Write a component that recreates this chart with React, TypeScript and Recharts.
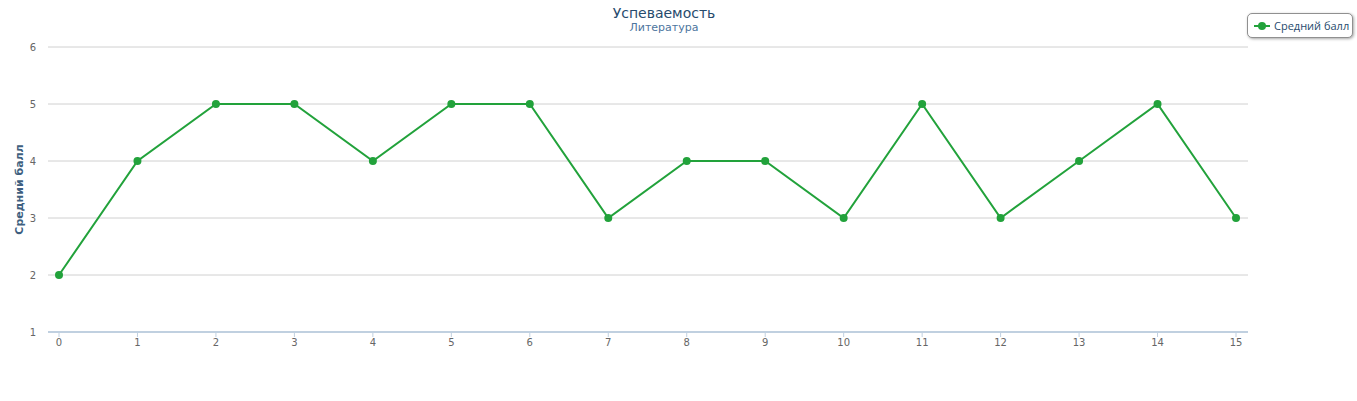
import React from 'react';
import { LineChart, Line, XAxis, YAxis, CartesianGrid } from 'recharts';

const categories = [0, 1, 2, 3, 4, 5, 6, 7, 8, 9, 10, 11, 12, 13, 14, 15];
const scores = [2, 4, 5, 5, 4, 5, 5, 3, 4, 4, 3, 5, 3, 4, 5, 3];
const yTicks = [1, 2, 3, 4, 5, 6];
const seriesName = 'Средний балл';
const title = 'Успеваемость';
const subtitle = 'Литература';

const data = categories.map((c, i) => ({ x: c, y: scores[i] }));
const GREEN = '#22a23b';
const FONT = '"DejaVu Sans", Verdana, sans-serif';
const LFONT = '"Open Sans", "Noto Sans", sans-serif';

const LegendBox = () => (
  <div
    style={{
      position: 'absolute',
      left: 1247,
      top: 13,
      width: 106,
      height: 25,
      boxSizing: 'border-box',
      border: '1px solid #909090',
      borderRadius: 5,
      background: '#fff',
      boxShadow: '1px 1px 3px rgba(0,0,0,0.35)',
      paddingLeft: 6,
      display: 'flex',
      alignItems: 'center',
      fontFamily: LFONT,
      fontSize: 11,
      color: '#274b6d',
      whiteSpace: 'nowrap',
    }}
  >
    <svg width={16} height={10} style={{ marginRight: 4 }}>
      <line x1={0} y1={5} x2={16} y2={5} stroke={GREEN} strokeWidth={2} />
      <circle cx={8} cy={5} r={4} fill={GREEN} />
    </svg>
    {seriesName}
  </div>
);

const YLabel = (props: any) => {
  const vb = props.viewBox || {};
  const cy = vb.y + vb.height / 2;
  return (
    <text
      x={23}
      y={cy}
      transform={`rotate(-90, 23, ${cy})`}
      textAnchor="middle"
      fill="#3e5f80"
      fontWeight="bold"
      fontSize={11}
      fontFamily={FONT}
    >
      {seriesName}
    </text>
  );
};

export default function App() {
  return (
    <div style={{ position: 'absolute', left: 0, top: 0, width: 1357, height: 401, background: '#fff' }}>
      <LineChart
        width={1357}
        height={401}
        data={data}
        margin={{ top: 47, right: 109, bottom: 0, left: 0 }}
      >
        <CartesianGrid horizontal vertical={false} stroke="#d0d0d0" />
        <XAxis
          dataKey="x"
          type="number"
          domain={[0, 15]}
          ticks={categories}
          interval={0}
          padding={{ left: 11, right: 12 }}
          height={69}
          stroke="#c0d0e0"
          strokeWidth={2}
          tickLine={{ stroke: '#c0d0e0', strokeWidth: 1 }}
          tickSize={5}
          tick={{ fill: '#666', fontSize: 10, fontFamily: FONT }}
        />
        <YAxis
          domain={[1, 6]}
          ticks={yTicks}
          interval={0}
          width={48}
          axisLine={false}
          tickLine={false}
          tickMargin={6}
          tick={{ fill: '#666', fontSize: 10, fontFamily: FONT }}
          label={<YLabel />}
        />
        <Line
          type="linear"
          dataKey="y"
          name={seriesName}
          stroke={GREEN}
          strokeWidth={2}
          dot={{ r: 4, fill: GREEN, stroke: GREEN, strokeWidth: 0 }}
          activeDot={false}
          isAnimationActive={false}
        />
      </LineChart>
      <div
        style={{
          position: 'absolute',
          left: 0,
          width: 1328,
          top: 5,
          textAlign: 'center',
          fontFamily: FONT,
          fontSize: 14,
          color: '#274b6d',
        }}
      >
        {title}
      </div>
      <div
        style={{
          position: 'absolute',
          left: 0,
          width: 1328,
          top: 21,
          textAlign: 'center',
          fontFamily: FONT,
          fontSize: 11,
          color: '#4d759e',
        }}
      >
        {subtitle}
      </div>
      <LegendBox />
    </div>
  );
}
